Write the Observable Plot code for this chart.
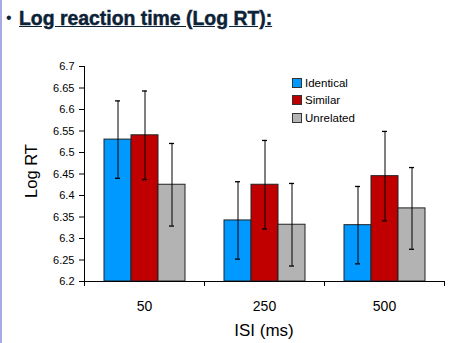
<!DOCTYPE html>
<html>
<head>
<meta charset="utf-8">
<script src="https://cdn.jsdelivr.net/npm/d3@7"></script>
<script src="https://cdn.jsdelivr.net/npm/@observablehq/plot@0.6"></script>
<style>
  html, body { margin: 0; padding: 0; background: #fff; }
  #page { position: relative; width: 463px; height: 343px; overflow: hidden; background: #fff;
          font-family: "Liberation Sans", Arial, sans-serif; }
  #border { position: absolute; left: 0; top: 0; width: 2px; height: 343px; background: #a9a9e3; }
  #title { height: 43px; position: relative; }
  #title .bullet { position: absolute; left: 6px; top: 9px; font-size: 16px; color: #0c2236; }
  #title .text { position: absolute; left: 19px; top: 7px; font-size: 19.4px; font-weight: bold;
                 color: #0c2236; text-decoration: underline; white-space: nowrap;
                 -webkit-text-stroke: 0.45px #0c2236; }
  #ylabel { position: absolute; left: 31px; top: 171px; transform: translate(-50%, -50%) rotate(-90deg);
            font-size: 16.5px; color: #000; white-space: nowrap; }
  #xlabel { position: absolute; left: 264px; top: 321px; transform: translateX(-50%);
            font-size: 17px; color: #000; white-space: nowrap; }
  #legend { position: absolute; left: 292px; top: 74px; font-size: 11.5px; color: #000; }
  #legend .item { display: flex; align-items: center; height: 17.5px; }
  #legend .sw { width: 8px; height: 8px; border: 1px solid #333; margin-right: 3px; }
  svg [aria-label="y-axis tick label"] text { font-size: 11px; }
  svg [aria-label="fx-axis tick label"] text { font-size: 14px; }
</style>
</head>
<body>
<div id="page">
  <div id="border"></div>
  <div id="title"><span class="bullet">•</span><span class="text">Log reaction time (Log RT):</span></div>
  <div id="chart"></div>
  <div id="ylabel">Log RT</div>
  <div id="xlabel">ISI (ms)</div>
  <div id="legend"></div>
</div>
<script>
const isi = ["50", "250", "500"];
const conditions = ["Identical", "Similar", "Unrelated"];
const colors = ["#0099ff", "#c00000", "#b3b3b3"];
const identical = [6.530, 6.342, 6.331];
const similar = [6.540, 6.425, 6.445];
const unrelated = [6.425, 6.332, 6.370];
const identicalErr = [0.090, 0.090, 0.090];
const similarErr = [0.103, 0.103, 0.104];
const unrelatedErr = [0.096, 0.096, 0.095];
const yTicks = [6.2, 6.25, 6.3, 6.35, 6.4, 6.45, 6.5, 6.55, 6.6, 6.65, 6.7];

const series = [identical, similar, unrelated];
const errs = [identicalErr, similarErr, unrelatedErr];
const data = [];
isi.forEach((s, i) => conditions.forEach((c, j) => {
  data.push({isi: s, cond: c, value: series[j][i], err: errs[j][i]});
}));
const yMin = yTicks[0], yMax = yTicks[yTicks.length - 1];

const chart = Plot.plot({
  width: 463, height: 300,
  marginLeft: 84, marginRight: 19, marginTop: 23, marginBottom: 62,
  style: {fontFamily: "'Liberation Sans', Arial, sans-serif", background: "transparent", color: "#000", overflow: "visible"},
  fx: {domain: isi, padding: 0, axis: "bottom", tickSize: 0, tickPadding: 20, label: null},
  x: {domain: conditions, paddingInner: 0, paddingOuter: 0.72, axis: null},
  y: {domain: [yMin, yMax], ticks: yTicks, tickSize: 5, tickPadding: 5,
      tickFormat: d => String(+d.toFixed(2)), label: null},
  color: {domain: conditions, range: colors},
  marks: [
    Plot.barY(data, {fx: "isi", x: "cond", y1: () => yMin, y2: "value", fill: "cond",
                     stroke: "#222", strokeWidth: 1, insetLeft: 0, insetRight: 0}),
    Plot.ruleX(data, {fx: "isi", x: "cond", y1: d => d.value - d.err, y2: d => d.value + d.err,
                      stroke: "#000", strokeWidth: 1}),
    Plot.tickY(data, {fx: "isi", x: "cond", y: d => d.value + d.err, stroke: "#000", strokeWidth: 1.3,
                      insetLeft: 11, insetRight: 11}),
    Plot.tickY(data, {fx: "isi", x: "cond", y: d => d.value - d.err, stroke: "#000", strokeWidth: 1.3,
                      insetLeft: 11, insetRight: 11}),
    Plot.ruleY([yMin], {stroke: "#000", strokeWidth: 1})
  ]
});

// axis line and category boundary ticks from the plot's own scales
const fx = chart.scale("fx"), y = chart.scale("y");
const svg = d3.select(chart);
const g = svg.append("g").attr("stroke", "#000").attr("stroke-width", 1);
const left = fx.apply(isi[0]);
g.append("line").attr("x1", left + 0.5).attr("x2", left + 0.5)
  .attr("y1", y.apply(yMax)).attr("y2", y.apply(yMin));
const bounds = isi.map(v => fx.apply(v)).concat([fx.apply(isi[isi.length - 1]) + fx.bandwidth]);
bounds.forEach(b => {
  g.append("line").attr("x1", b + 0.5).attr("x2", b + 0.5)
    .attr("y1", y.apply(yMin)).attr("y2", y.apply(yMin) + 5);
});

document.getElementById("chart").appendChild(chart);

const legend = document.getElementById("legend");
conditions.forEach((c, i) => {
  const item = document.createElement("div");
  item.className = "item";
  const sw = document.createElement("span");
  sw.className = "sw";
  sw.style.background = colors[i];
  const t = document.createElement("span");
  t.textContent = c;
  item.appendChild(sw); item.appendChild(t);
  legend.appendChild(item);
});
</script>
</body>
</html>
